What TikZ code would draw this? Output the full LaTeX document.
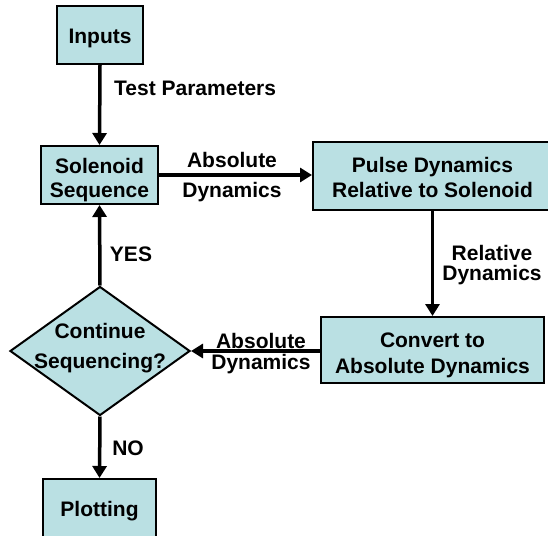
\documentclass[tikz,border=0pt]{standalone}
\usepackage{fontspec}
\setmainfont{Liberation Sans}
\usetikzlibrary{shapes.geometric,arrows.meta}
\definecolor{boxfill}{RGB}{186,224,227}
\tikzset{
  box/.style={draw=black, line width=2pt, fill=boxfill, inner sep=0pt, align=center},
  lbl/.style={inner sep=0pt, align=center},
  flow/.style={line width=3.5pt, -{Triangle[length=12pt,width=14pt]}},
  every node/.style={font=\fontsize{21}{25}\selectfont\bfseries}
}
\begin{document}
\begin{tikzpicture}[x=1pt,y=-1pt]
\clip (0,0) rectangle (548,535);
\fill[white] (0,0) rectangle (548,535);
\node[box, minimum width=86pt, minimum height=58pt] (in) at (100,35) {};
\node[lbl] (intext) at (100,38) {Inputs};
\node[box, minimum width=117pt, minimum height=58pt] (sol) at (99.5,175) {};
\node[lbl, font=\fontsize{21}{24}\selectfont\bfseries] (soltext) at (99.5,180.5) {Solenoid\\Sequence};
\node[box, minimum width=239pt, minimum height=68pt] (pulse) at (432.5,176) {};
\node[lbl] (pulsetext) at (432.5,177) {Pulse Dynamics\\Relative to Solenoid};
\node[box, minimum width=223pt, minimum height=66pt] (conv) at (432.5,350) {};
\node[lbl, font=\fontsize{21}{26}\selectfont\bfseries] (convtext) at (432.5,355.5) {Convert to\\Absolute Dynamics};
\node[draw=black, line width=2pt, fill=boxfill, diamond, inner sep=0pt, minimum width=180pt, minimum height=129pt] (dia) at (100,351) {};
\node[lbl, font=\fontsize{21}{30}\selectfont\bfseries] (diat) at (100,348.5) {Continue\\Sequencing?};
\node[box, minimum width=113pt, minimum height=100pt, anchor=north] (plot) at (99.5,478) {};
\node[lbl] (plott) at (99.5,511) {Plotting};

\coordinate (solE) at (sol.east);
\coordinate (convW) at ([yshift=-1pt]conv.west);

\draw[flow] (in.south) -- (sol.north);
\draw[flow] (solE) -- (solE -| pulse.west);
\draw[flow] (pulse.south) -- (conv.north);
\draw[flow] (convW) -- (convW -| dia.east);
\draw[flow] (dia.north) -- (sol.south);
\draw[flow] (dia.south) -- (plot.north);

\node[lbl, anchor=west] (tp) at (114,88) {Test Parameters};
\node[lbl] (ad1) at (232,160) {Absolute};
\node[lbl] (ad2) at (232,192) {Dynamics};
\node[lbl] (rd1) at (492,253) {Relative};
\node[lbl] (rd2) at (492,275) {Dynamics};
\node[lbl] (ad3) at (261,341) {Absolute};
\node[lbl] (ad4) at (261,364) {Dynamics};
\node[lbl] (yes) at (131,254) {YES};
\node[lbl] (no) at (128,448) {NO};
\end{tikzpicture}
\end{document}
